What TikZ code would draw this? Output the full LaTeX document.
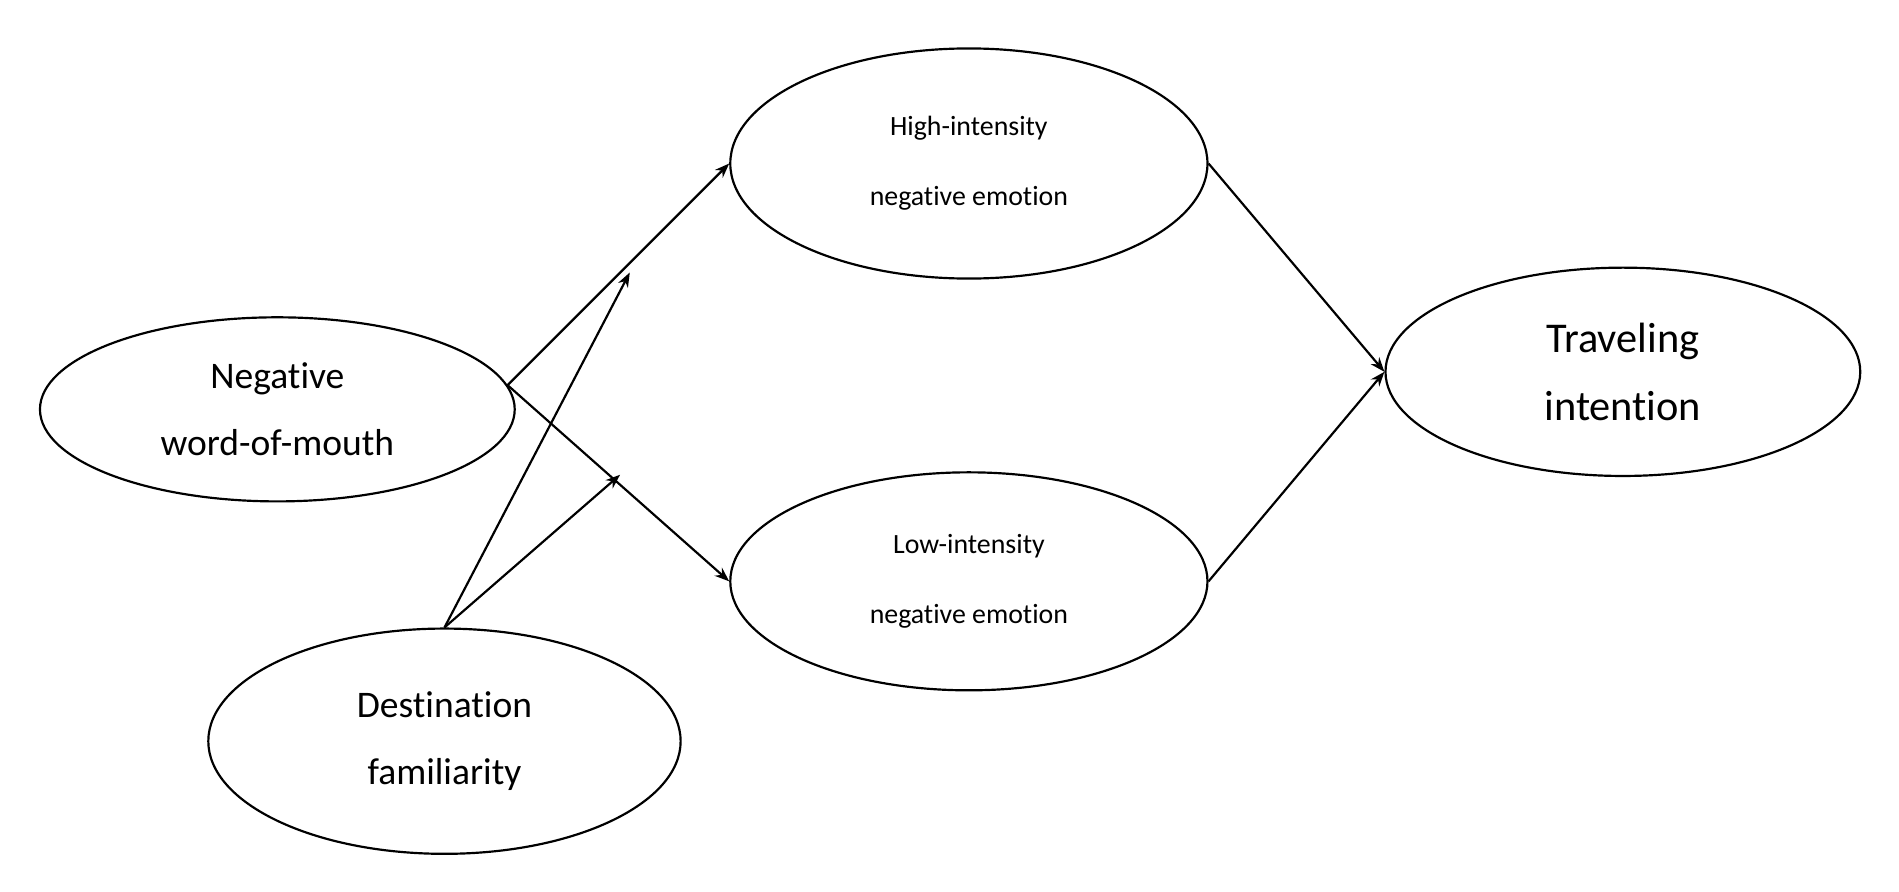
\documentclass[tikz,border=0pt]{standalone}
\usepackage{fontspec}
\setmainfont[Ligatures={NoCommon}]{Carlito}
\usetikzlibrary{shapes.geometric,arrows.meta}
\begin{document}
\begin{tikzpicture}[x=1pt,y=-1pt,
  el/.style={ellipse,draw,line width=1.8pt,inner sep=0pt,align=center},
  big/.style={font=\fontsize{31}{55}\selectfont},
  huge/.style={font=\fontsize{35}{56}\selectfont},
  small/.style={font=\fontsize{23}{58}\selectfont},
  arr/.style={-{Stealth[length=12pt,width=9pt]},line width=1.8pt}]
\useasboundingbox[fill=white] (0,0) rectangle (1568,736);
\node[el,big,minimum width=392pt,minimum height=152pt] (nw) at (229,338) {Negative\\word-of-mouth};
\node[el,big,minimum width=390pt,minimum height=186pt] (df) at (367,612) {Destination\\familiarity};
\node[el,small,minimum width=394pt,minimum height=190pt] (hi) at (800,135) {High-intensity\\negative emotion};
\node[el,small,minimum width=394pt,minimum height=180pt] (lo) at (800,480) {Low-intensity\\negative emotion};
\node[el,huge,minimum width=392pt,minimum height=172pt] (tr) at (1340,307) {Traveling\\intention};
\coordinate (m1) at (520,225);
\coordinate (m2) at (512,392);
\draw[arr] (nw.6) -- (hi.west);
\draw[arr] (nw.6) -- (lo.west);
\draw[arr] (df.north) -- (m1);
\draw[arr] (df.north) -- (m2);
\draw[arr] (hi.east) -- (tr.west);
\draw[arr] (lo.east) -- (tr.west);
\end{tikzpicture}
\end{document}
